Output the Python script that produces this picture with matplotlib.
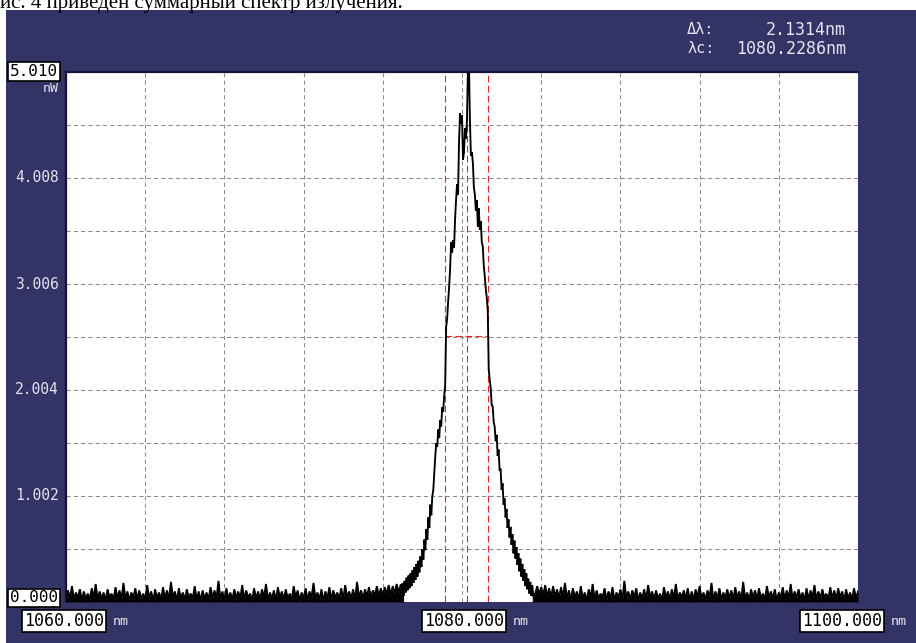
import numpy as np
import matplotlib
matplotlib.use("Agg")
import matplotlib.pyplot as plt
from matplotlib.patches import Rectangle

W, H = 916, 643

# ---------------- data ----------------
x_min, x_max = 1060.0, 1100.0
y_max = 5.010
x_grid_step = 4.0
y_grid_step = 0.501
y_tick_values = [1.002, 2.004, 3.006, 4.008]
y_tick_labels = ["1.002", "2.004", "3.006", "4.008"]
y_top_label = "5.010"
y_bottom_label = "0.000"
x_tick_labels = ["1060.000", "1080.000", "1100.000"]
y_unit = "nW"
x_unit = "nm"
delta_lambda = 2.1314
lambda_center = 1080.2286
half_level = 2.51
caption = "ис. 4 приведен суммарный спектр излучения."

# spectrum trace, left noise floor: 1060.0 .. 1076.9 nm, step 0.1 nm
floor_left_start, floor_left_step = 1060.0, 0.1
floor_left = [
    0.02, 0.11, 0.03, 0.15, 0.02, 0.09, 0.04, 0.12, 0.01, 0.10,
    0.03, 0.08, 0.02, 0.13, 0.04, 0.17, 0.02, 0.10, 0.03, 0.09,
    0.01, 0.12, 0.04, 0.08, 0.02, 0.14, 0.03, 0.11, 0.02, 0.18,
    0.03, 0.10, 0.01, 0.09, 0.04, 0.13, 0.02, 0.11, 0.03, 0.08,
    0.02, 0.16, 0.03, 0.10, 0.01, 0.12, 0.04, 0.09, 0.02, 0.14,
    0.03, 0.11, 0.02, 0.19, 0.04, 0.10, 0.01, 0.13, 0.03, 0.09,
    0.02, 0.12, 0.04, 0.08, 0.03, 0.15, 0.02, 0.10, 0.01, 0.11,
    0.03, 0.09, 0.02, 0.14, 0.04, 0.11, 0.03, 0.20, 0.02, 0.10,
    0.01, 0.13, 0.03, 0.09, 0.02, 0.12, 0.04, 0.10, 0.03, 0.16,
    0.02, 0.11, 0.04, 0.08, 0.01, 0.13, 0.03, 0.10, 0.02, 0.12,
    0.04, 0.17, 0.02, 0.09, 0.03, 0.11, 0.01, 0.14, 0.04, 0.10,
    0.02, 0.12, 0.03, 0.08, 0.02, 0.15, 0.04, 0.11, 0.01, 0.09,
    0.03, 0.13, 0.02, 0.10, 0.04, 0.18, 0.03, 0.09, 0.02, 0.12,
    0.01, 0.10, 0.03, 0.14, 0.02, 0.11, 0.04, 0.09, 0.03, 0.13,
    0.02, 0.16, 0.04, 0.10, 0.03, 0.12, 0.02, 0.19, 0.04, 0.11,
    0.03, 0.12, 0.05, 0.14, 0.04, 0.11, 0.06, 0.15, 0.05, 0.13,
    0.06, 0.14, 0.07, 0.16, 0.06, 0.15, 0.08, 0.17, 0.09, 0.16,
]

# peak region: 1077.00 .. 1083.60 nm, step 0.05 nm
peak_start, peak_step = 1077.0, 0.05
peak = [
    0.17, 0.06, 0.20, 0.09, 0.23, 0.11, 0.25, 0.13, 0.27, 0.15,
    0.30, 0.18, 0.33, 0.21, 0.36, 0.24, 0.39, 0.28, 0.43, 0.33,
    0.50, 0.40, 0.59, 0.49, 0.69, 0.59, 0.80, 0.70, 0.92, 0.82,
    1.00, 1.06, 1.22, 1.38, 1.50, 1.47, 1.63, 1.55, 1.72, 1.66,
    1.84, 1.80, 1.95, 2.05, 2.60, 2.68, 2.84, 2.98, 3.15, 3.40,
    3.30, 3.42, 3.35, 3.62, 3.80, 3.95, 3.85, 4.35, 4.62, 4.52,
    4.60, 4.18, 4.25, 4.48, 4.38, 4.55, 5.05, 5.10, 4.55, 4.22,
    4.25, 4.15, 3.92, 3.85, 3.70, 3.80, 3.55, 3.72, 3.52, 3.60,
    3.40, 3.36, 3.18, 3.08, 2.96, 2.88, 2.76,
    2.20, 2.10, 2.02, 1.86, 1.85, 1.70, 1.66, 1.52, 1.58, 1.38,
    1.44, 1.24, 1.26, 1.06, 1.12, 0.92, 0.98, 0.80, 0.88, 0.70,
    0.78, 0.61, 0.71, 0.54, 0.64, 0.46, 0.58, 0.41, 0.52, 0.35,
    0.46, 0.29, 0.41, 0.24, 0.36, 0.20, 0.31, 0.15, 0.27, 0.12,
    0.22, 0.08, 0.19, 0.06, 0.16, 0.05,
]

# right noise floor: 1083.7 .. 1100.0 nm, step 0.1 nm
floor_right_start, floor_right_step = 1083.7, 0.1
floor_right = [
    0.08, 0.15, 0.07, 0.14, 0.06, 0.16, 0.05, 0.13, 0.04, 0.15,
    0.05, 0.12, 0.03, 0.14, 0.04, 0.18, 0.03, 0.11, 0.02, 0.13,
    0.04, 0.10, 0.02, 0.15, 0.03, 0.09, 0.01, 0.12, 0.04, 0.17,
    0.02, 0.11, 0.03, 0.08, 0.04, 0.13, 0.02, 0.10, 0.03, 0.14,
    0.01, 0.09, 0.04, 0.12, 0.02, 0.20, 0.03, 0.10, 0.02, 0.11,
    0.04, 0.13, 0.01, 0.09, 0.03, 0.12, 0.02, 0.16, 0.04, 0.10,
    0.02, 0.11, 0.03, 0.08, 0.01, 0.14, 0.04, 0.10, 0.02, 0.12,
    0.03, 0.17, 0.02, 0.09, 0.04, 0.11, 0.03, 0.13, 0.01, 0.10,
    0.02, 0.12, 0.04, 0.15, 0.03, 0.09, 0.02, 0.11, 0.04, 0.18,
    0.01, 0.10, 0.03, 0.13, 0.02, 0.09, 0.04, 0.12, 0.03, 0.11,
    0.02, 0.14, 0.04, 0.10, 0.01, 0.19, 0.03, 0.09, 0.02, 0.12,
    0.04, 0.11, 0.02, 0.13, 0.03, 0.08, 0.02, 0.15, 0.04, 0.10,
    0.03, 0.12, 0.01, 0.09, 0.04, 0.14, 0.02, 0.11, 0.03, 0.17,
    0.02, 0.10, 0.04, 0.12, 0.03, 0.09, 0.01, 0.13, 0.02, 0.11,
    0.04, 0.16, 0.02, 0.10, 0.03, 0.12, 0.04, 0.08, 0.02, 0.14,
    0.03, 0.11, 0.02, 0.13, 0.04, 0.10, 0.01, 0.12, 0.03, 0.09,
    0.02, 0.13, 0.03, 0.10,
]

# ---------------- build trace ----------------
wl_left = floor_left_start + floor_left_step * np.arange(len(floor_left))
wl_peak = peak_start + peak_step * np.arange(len(peak))
wl_right = floor_right_start + floor_right_step * np.arange(len(floor_right))
wavelength = np.concatenate([wl_left, wl_peak, wl_right])
power = np.concatenate([floor_left, peak, floor_right])

# ---------------- figure ----------------
NAVY = "#333366"
LIGHT = "#e4e4f0"
MONO = "DejaVu Sans Mono"


def fx(x):
    return x / W


def fy(y):
    return 1 - y / H


fig = plt.figure(figsize=(W / 100, H / 100), dpi=100)
fig.patch.set_facecolor("white")
fig.add_artist(Rectangle((fx(6), 0), 1 - fx(6), fy(10), transform=fig.transFigure,
                         facecolor=NAVY, edgecolor="none", zorder=0))

ax = fig.add_axes([fx(66), fy(602), fx(858) - fx(66), fy(72) - fy(602)])
ax.set_facecolor("white")
ax.set_xlim(x_min, x_max)
ax.set_ylim(0, y_max)
ax.set_xticks([])
ax.set_yticks([])
for s in ["right", "bottom"]:
    ax.spines[s].set_visible(False)
for s in ["top", "left"]:
    ax.spines[s].set_color("#12123a")
    ax.spines[s].set_linewidth(1.6)

# grid
grid_kw = dict(color="#8a8a8a", lw=0.75, dashes=(4, 3), zorder=1)
for k in range(1, int(round((x_max - x_min) / x_grid_step))):
    ax.axvline(x_min + k * x_grid_step, **grid_kw)
for k in range(1, int(round(y_max / y_grid_step))):
    ax.axhline(k * y_grid_step, **grid_kw)

# markers for FWHM / centre
red_kw = dict(color="#ff1e1e", lw=0.8, dashes=(6, 3), zorder=2)
left_m = lambda_center - delta_lambda / 2
right_m = lambda_center + delta_lambda / 2
for xv in (left_m, lambda_center, right_m):
    ax.axvline(xv, **red_kw)
ax.plot([left_m, right_m], [half_level, half_level], **red_kw)

# trace: noise floor is drawn dense (filled down to zero) as on the OSA screen
n_edge = 2
fill_l_x = np.concatenate([wl_left, wl_peak[:n_edge]])
fill_l_y = np.concatenate([floor_left, peak[:n_edge]])
fill_r_x = np.concatenate([wl_peak[-n_edge:], wl_right])
fill_r_y = np.concatenate([peak[-n_edge:], floor_right])
ax.fill_between(fill_l_x, 0, fill_l_y, color="black", lw=0, zorder=3)
ax.fill_between(fill_r_x, 0, fill_r_y, color="black", lw=0, zorder=3)
ax.plot(wavelength, power, color="black", lw=1.35, zorder=3, solid_joinstyle="miter")

# ---------------- texts ----------------
fig.text(fx(0), fy(8), caption, family="Liberation Serif", fontsize=15,
         ha="left", va="baseline", color="black")

fig.text(fx(687), fy(30), "\u0394\u03bb:", family=MONO, fontsize=11, color=LIGHT,
         ha="left", va="center")
fig.text(fx(846), fy(30), f"{delta_lambda:.4f}{x_unit}", family=MONO, fontsize=12,
         color=LIGHT, ha="right", va="center")
fig.text(fx(687), fy(48.5), "\u03bbc:", family=MONO, fontsize=11, color=LIGHT,
         ha="left", va="center")
fig.text(fx(846), fy(48.5), f"{lambda_center:.4f}{x_unit}", family=MONO, fontsize=12,
         color=LIGHT, ha="right", va="center")

box_kw = dict(boxstyle="square,pad=0.12", facecolor="white", edgecolor="black", lw=1.2)

# y labels
fig.text(fx(58), fy(71.5), y_top_label, family=MONO, fontsize=11.5, color="black",
         ha="right", va="center", bbox=box_kw)
fig.text(fx(59), fy(89), y_unit, family=MONO, fontsize=9.5, color=LIGHT,
         ha="right", va="center")
for v, lab in zip(y_tick_values, y_tick_labels):
    ypix = 602 - v / y_max * (602 - 72)
    fig.text(fx(59), fy(ypix), lab, family=MONO, fontsize=10.5, color=LIGHT,
             ha="right", va="center")
fig.text(fx(58), fy(598), y_bottom_label, family=MONO, fontsize=11.5, color="black",
         ha="right", va="center", bbox=box_kw)

# x labels
for lab, xl, xu in zip(x_tick_labels, [24, 424, 802], [113, 513, 891]):
    fig.text(fx(xl), fy(620.5), lab, family=MONO, fontsize=12, color="black",
             ha="left", va="center", bbox=box_kw)
    fig.text(fx(xu), fy(621.5), x_unit, family=MONO, fontsize=9.5, color=LIGHT,
             ha="left", va="center")

fig.savefig("out.png", dpi=100, facecolor="white")
